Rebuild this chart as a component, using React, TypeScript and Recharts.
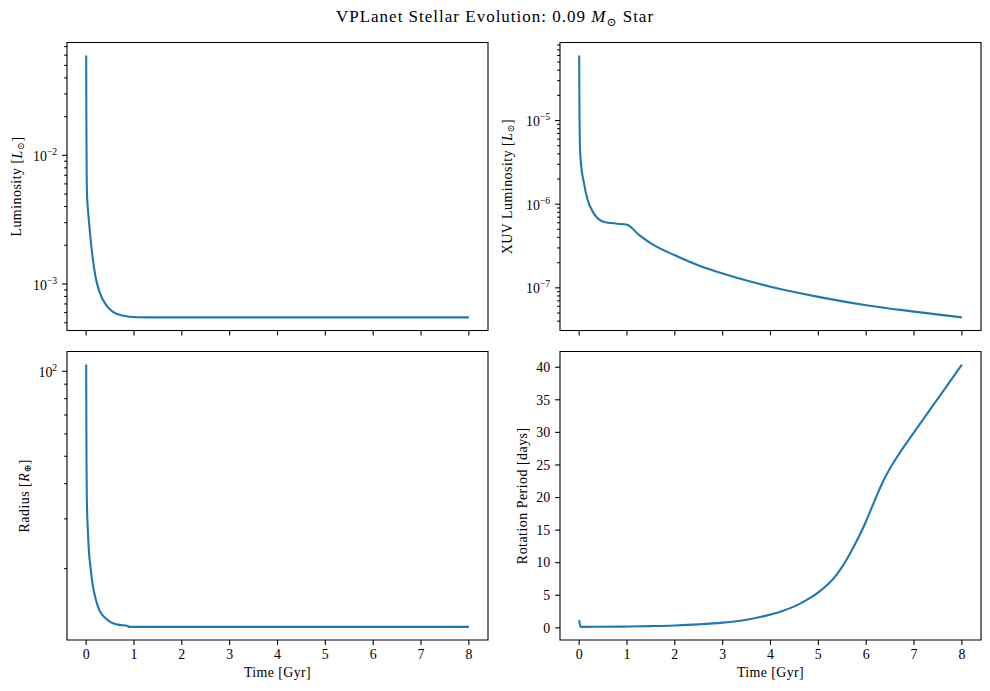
import React from "react";
import { LineChart, Line, XAxis, YAxis, ReferenceArea, Label } from "recharts";

// time grids (Gyr) and values
const lumTime = [0.001, 0.004, 0.008, 0.012, 0.02, 0.036, 0.071, 0.14, 0.19, 0.28, 0.42, 0.56, 0.73, 1.08, 1.5, 2, 3, 4, 5, 6, 7, 8];
const lumValue = [0.0596, 0.0225, 0.011, 0.0068, 0.0048, 0.00386, 0.00273, 0.00157, 0.00117, 0.000869, 0.000685, 0.000607, 0.000572, 0.000552, 0.00055, 0.00055, 0.00055, 0.00055, 0.00055, 0.00055, 0.00055, 0.00055];

const xuvTime = [0.001, 0.004, 0.008, 0.015, 0.042, 0.096, 0.17, 0.31, 0.52, 0.8, 1.0, 1.25, 1.5, 2, 2.5, 3, 3.5, 4, 5, 6, 7, 8];
const xuvValue = [5.98e-5, 2.25e-5, 1.1e-5, 5.4e-6, 2.93e-6, 1.85e-6, 1.16e-6, 7.71e-7, 6.14e-7, 5.85e-7, 5.69e-7, 4.3e-7, 3.4e-7, 2.45e-7, 1.85e-7, 1.48e-7, 1.22e-7, 1.03e-7, 7.8e-8, 6.2e-8, 5.2e-8, 4.43e-8];

const radTime = [0.001, 0.004, 0.008, 0.015, 0.036, 0.057, 0.092, 0.134, 0.209, 0.28, 0.385, 0.52, 0.66, 0.87, 0.89, 1.5, 2, 3, 4, 5, 6, 7, 8];
const radValue = [105.6, 67, 46.4, 34.9, 27.3, 23.2, 20.2, 17.66, 15.4, 14.2, 13.44, 12.9, 12.66, 12.53, 12.43, 12.43, 12.43, 12.43, 12.43, 12.43, 12.43, 12.43, 12.43];

const rotTime = [0.001, 0.03, 0.5, 1, 1.5, 2, 2.5, 3, 3.5, 4, 4.25, 4.5, 4.75, 5, 5.125, 5.25, 5.375, 5.5, 5.625, 5.75, 5.875, 6, 6.125, 6.25, 6.375, 6.5, 6.625, 6.75, 6.875, 7, 7.25, 7.5, 7.75, 8];
const rotValue = [1.2, 0.15, 0.17, 0.2, 0.27, 0.37, 0.54, 0.8, 1.25, 2.05, 2.6, 3.3, 4.25, 5.45, 6.2, 7.05, 8.1, 9.4, 10.9, 12.6, 14.4, 16.4, 18.6, 20.8, 22.8, 24.5, 26.0, 27.4, 28.7, 30.0, 32.6, 35.2, 37.8, 40.4];

const timeTicks = [0, 1, 2, 3, 4, 5, 6, 7, 8];
const rotTicks = [0, 5, 10, 15, 20, 25, 30, 35, 40];
const timeDomain: [number, number] = [-0.4, 8.4];

const BLUE = "#1f77b4";
const SERIF = "'Liberation Serif', 'DejaVu Serif', serif";
const FS = 13.9;
const MAJOR = 4.9;
const MINOR = 2.8;
const PAD = 4.9;

// matplotlib-style autoscale: 5% margin (in log space for log axes)
function logDomain(vals: number[]): [number, number] {
  const lo = Math.log10(Math.min(...vals));
  const hi = Math.log10(Math.max(...vals));
  const pad = (hi - lo) * 0.05;
  return [10 ** (lo - pad), 10 ** (hi + pad)];
}
function linDomain(vals: number[]): [number, number] {
  const lo = Math.min(...vals);
  const hi = Math.max(...vals);
  const pad = (hi - lo) * 0.05;
  return [lo - pad, hi + pad];
}
function logTicks([lo, hi]: [number, number]) {
  const out: number[] = [];
  for (let k = Math.floor(Math.log10(lo)); k <= Math.ceil(Math.log10(hi)); k++) {
    for (let m = 1; m <= 9; m++) {
      const v = m * 10 ** k;
      if (v >= lo && v <= hi) out.push(v);
    }
  }
  return out;
}
const isDecade = (v: number) => {
  const l = Math.log10(v);
  return Math.abs(l - Math.round(l)) < 1e-6;
};
const expText = (n: number) => (n < 0 ? "\u2212" + Math.abs(n) : String(n));

const makeYTick = (log: boolean) => (props: any) => {
  const { x, y, payload } = props;
  const v = payload.value;
  const major = !log || isDecade(v);
  const len = major ? MAJOR : MINOR;
  return (
    <g>
      <line x1={x - len} x2={x} y1={y} y2={y} stroke="#000" strokeWidth={1.1} />
      {major && log && (
        <text x={x - len - PAD} y={y + 5.5} textAnchor="end" fontSize={FS} fontFamily={SERIF} fill="#000">
          10<tspan dy={-6} fontSize={9.7}>{expText(Math.round(Math.log10(v)))}</tspan>
        </text>
      )}
      {major && !log && (
        <text x={x - len - PAD} y={y + 4.7} textAnchor="end" fontSize={FS} fontFamily={SERIF} fill="#000">
          {v}
        </text>
      )}
    </g>
  );
};

const makeXTick = (showLabel: boolean) => (props: any) => {
  const { x, y, payload } = props;
  return (
    <g>
      <line x1={x} x2={x} y1={y} y2={y + MAJOR} stroke="#000" strokeWidth={1.1} />
      {showLabel && (
        <text x={x} y={y + 19.3} textAnchor="middle" fontSize={FS} fontFamily={SERIF} fill="#000">
          {payload.value}
        </text>
      )}
    </g>
  );
};

type PanelProps = {
  left: number;
  top: number;
  height: number;
  marginTop: number;
  plotH: number;
  time: number[];
  values: number[];
  log: boolean;
  yTitle: React.ReactNode;
  titleX: number;
  bottom: boolean;
};

function Panel({ left, top, height, marginTop, plotH, time, values, log, yTitle, titleX, bottom }: PanelProps) {
  const data = time.map((t, i) => ({ t, v: values[i] }));
  const domain = log ? logDomain(values) : linDomain(values);
  const ticks = log ? logTicks(domain) : rotTicks;
  const cy = marginTop + plotH / 2;
  const xAxisH = height - marginTop - plotH;

  return (
    <div style={{ position: "absolute", left, top }}>
      <LineChart width={495} height={height} data={data} margin={{ top: marginTop, right: 7, bottom: 0, left: 0 }}>
        <XAxis
          dataKey="t"
          type="number"
          domain={timeDomain}
          ticks={timeTicks}
          interval={0}
          allowDataOverflow
          axisLine={false}
          tickLine={false}
          tickSize={0}
          tickMargin={0}
          height={xAxisH}
          tick={makeXTick(bottom)}
        >
          {bottom && (
            <Label
              content={() => (
                <text
                  x={67 + 421 / 2}
                  y={marginTop + plotH + 37}
                  textAnchor="middle"
                  fontSize={FS}
                  letterSpacing={0.4}
                  fontFamily={SERIF}
                  fill="#000"
                >
                  Time [Gyr]
                </text>
              )}
            />
          )}
        </XAxis>
        <YAxis
          type="number"
          scale={log ? "log" : "linear"}
          domain={domain}
          ticks={ticks}
          interval={0}
          allowDataOverflow
          axisLine={false}
          tickLine={false}
          tickSize={0}
          tickMargin={0}
          width={67}
          tick={makeYTick(log)}
        >
          <Label
            content={() => (
              <text
                x={titleX}
                y={cy}
                transform={`rotate(-90 ${titleX} ${cy})`}
                textAnchor="middle"
                dominantBaseline="central"
                fontSize={FS}
                letterSpacing={0.5}
                fontFamily={SERIF}
                fill="#000"
              >
                {yTitle}
              </text>
            )}
          />
        </YAxis>
        <ReferenceArea
          x1={timeDomain[0]}
          x2={timeDomain[1]}
          y1={domain[0]}
          y2={domain[1]}
          fill="none"
          stroke="#000"
          strokeWidth={1.1}
          ifOverflow="visible"
        />
        <Line type="monotone" dataKey="v" stroke={BLUE} strokeWidth={2.1} dot={false} isAnimationActive={false} />
      </LineChart>
    </div>
  );
}

const sub = (sym: string) => (
  <>
    <tspan dy={3} fontSize={9.7}>{sym}</tspan>
    <tspan dy={-3}>]</tspan>
  </>
);

export default function App() {
  return (
    <div style={{ position: "absolute", left: 0, top: 0, width: 990, height: 691, background: "#fff", fontFamily: SERIF }}>
      <div
        style={{
          position: "absolute",
          left: 0,
          top: 7,
          width: 990,
          textAlign: "center",
          fontSize: 17,
          letterSpacing: 1,
          lineHeight: "20px",
        }}
      >
        VPLanet Stellar Evolution: 0.09 <i>M</i>
        <span style={{ fontSize: "0.7em", position: "relative", top: "0.3em" }}>{"\u2299"}</span> Star
      </div>
      <Panel
        left={0}
        top={30}
        height={310}
        marginTop={12.5}
        plotH={288}
        time={lumTime}
        values={lumValue}
        log
        titleX={16.7}
        bottom={false}
        yTitle={<>Luminosity [<tspan fontStyle="italic">L</tspan>{sub("\u2299")}</>}
      />
      <Panel
        left={492.5}
        top={30}
        height={310}
        marginTop={12.5}
        plotH={288}
        time={xuvTime}
        values={xuvValue}
        log
        titleX={14.2}
        bottom={false}
        yTitle={<>XUV Luminosity [<tspan fontStyle="italic">L</tspan>{sub("\u2299")}</>}
      />
      <Panel
        left={0}
        top={340}
        height={351}
        marginTop={11.5}
        plotH={288.5}
        time={radTime}
        values={radValue}
        log
        titleX={24}
        bottom
        yTitle={<>Radius [<tspan fontStyle="italic">R</tspan>{sub("\u2295")}</>}
      />
      <Panel
        left={492.5}
        top={340}
        height={351}
        marginTop={11.5}
        plotH={288.5}
        time={rotTime}
        values={rotValue}
        log={false}
        titleX={29.8}
        bottom
        yTitle="Rotation Period [days]"
      />
    </div>
  );
}
